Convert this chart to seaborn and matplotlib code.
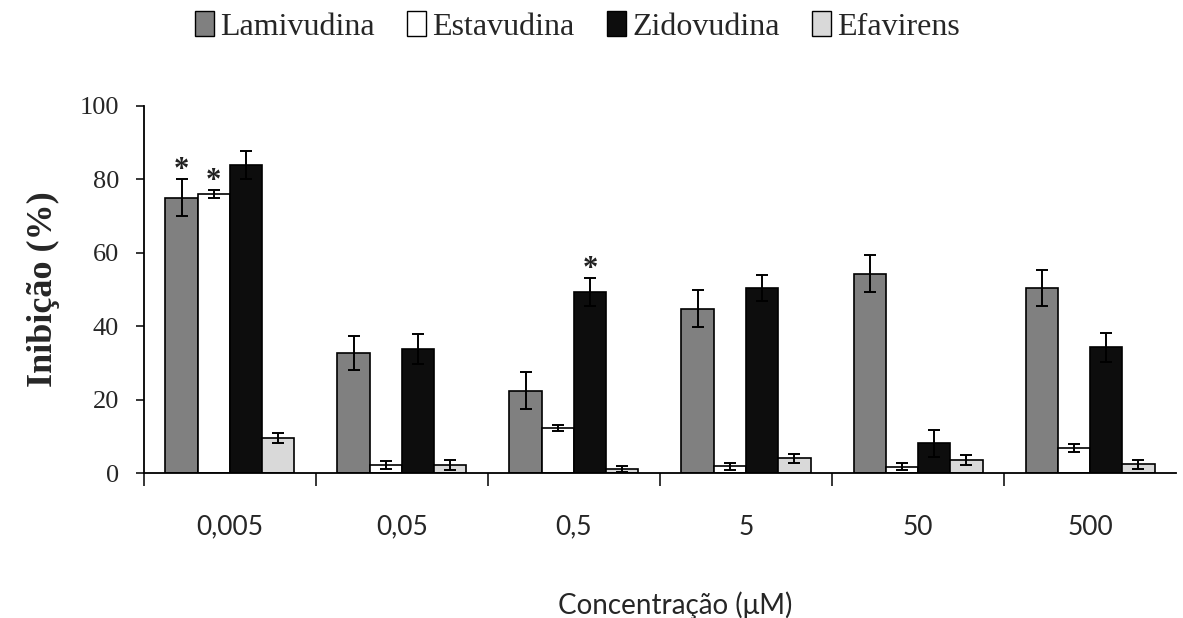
import matplotlib
matplotlib.use("Agg")
import matplotlib.pyplot as plt
from matplotlib.patches import Patch
import numpy as np
import pandas as pd
import seaborn as sns

concentracoes = ["0,005", "0,05", "0,5", "5", "50", "500"]
drogas = ["Lamivudina", "Estavudina", "Zidovudina", "Efavirens"]
cores = ["#808080", "#ffffff", "#0d0d0d", "#d9d9d9"]

lamivudina = [75.0, 32.7, 22.4, 44.8, 54.3, 50.4]
estavudina = [76.0, 2.2, 12.3, 1.8, 1.7, 6.8]
zidovudina = [84.0, 33.8, 49.3, 50.4, 8.1, 34.2]
efavirens = [9.6, 2.2, 1.0, 4.0, 3.5, 2.4]

lamivudina_err = [5.0, 4.5, 5.0, 5.0, 5.0, 5.0]
estavudina_err = [1.0, 1.0, 0.8, 1.0, 1.0, 1.0]
zidovudina_err = [3.8, 4.0, 3.8, 3.5, 3.7, 4.0]
efavirens_err = [1.3, 1.3, 0.8, 1.3, 1.3, 1.2]

# (droga, indice da concentracao) com diferenca significativa
asteriscos = [("Lamivudina", 0), ("Estavudina", 0), ("Zidovudina", 2)]

valores = [lamivudina, estavudina, zidovudina, efavirens]
erros = [lamivudina_err, estavudina_err, zidovudina_err, efavirens_err]

df = pd.DataFrame({
    "conc": np.tile(concentracoes, len(drogas)),
    "droga": np.repeat(drogas, len(concentracoes)),
    "inib": np.concatenate(valores),
    "err": np.concatenate(erros),
})

sns.set_style("ticks")
serif = ["Liberation Serif", "DejaVu Serif"]
sans = ["Lato", "DejaVu Sans"]

fig = plt.figure(figsize=(11.83, 6.18), dpi=100)
ax = fig.add_axes([0.1217, 0.2346, 0.8724, 0.5939])

sns.barplot(data=df, x="conc", y="inib", hue="droga", order=concentracoes,
            hue_order=drogas, palette=cores, width=0.75, gap=0,
            edgecolor="black", linewidth=1.2, errorbar=None, saturation=1,
            legend=False, ax=ax)

# barras de erro sobre as barras desenhadas pelo seaborn
for droga, cont in zip(drogas, ax.containers):
    sub = df[df.droga == droga]
    xs = [b.get_x() + b.get_width() / 2 for b in cont]
    ax.errorbar(xs, sub.inib, yerr=sub.err, fmt="none", ecolor="black",
                elinewidth=1.4, capsize=4.5, capthick=1.4, zorder=5)
    for d, i in asteriscos:
        if d == droga:
            b = cont[i]
            top = sub.inib.iloc[i] + sub.err.iloc[i]
            ax.annotate("*", (b.get_x() + b.get_width() / 2, top),
                        xytext=(0, -4), textcoords="offset points",
                        ha="center", va="bottom", fontsize=22,
                        fontweight="bold", family=serif, color="#222222")

ax.set_ylim(0, 100)
ax.set_xlim(-0.5, 5.5)
ax.set_yticks(range(0, 101, 20))
ax.set_yticklabels([str(v) for v in range(0, 101, 20)], family=serif, fontsize=19)
ax.set_xticks(range(len(concentracoes)))
ax.set_xticklabels(concentracoes, family=sans, fontsize=19)
ax.set_xticks(np.arange(-0.5, 5.0, 1.0), minor=True)
ax.tick_params(axis="x", which="major", length=0, pad=30)
ax.tick_params(axis="x", which="minor", length=9, width=1.3, direction="out")
ax.tick_params(axis="y", length=6, width=1.3, direction="out", pad=12)

for s in ["top", "right"]:
    ax.spines[s].set_visible(False)
for s in ["left", "bottom"]:
    ax.spines[s].set_linewidth(1.3)
    ax.spines[s].set_color("black")

ax.set_xlabel("")
fig.text(0.571, 0.021, "Concentração (μM)", family=sans, fontsize=20,
         ha="center", va="center")
ax.set_ylabel("Inibição (%)", family=serif, fontsize=26, fontweight="bold",
              labelpad=14)

handles = [Patch(facecolor=c, edgecolor="black", linewidth=1.0) for c in cores]
fig.legend(handles, drogas, loc="center", bbox_to_anchor=(0.488, 0.957),
           ncol=4, frameon=False, prop={"family": serif, "size": 23},
           handlelength=0.6, handleheight=0.8, handletextpad=0.2,
           columnspacing=1.0)

fig.savefig("out.png", dpi=100)
